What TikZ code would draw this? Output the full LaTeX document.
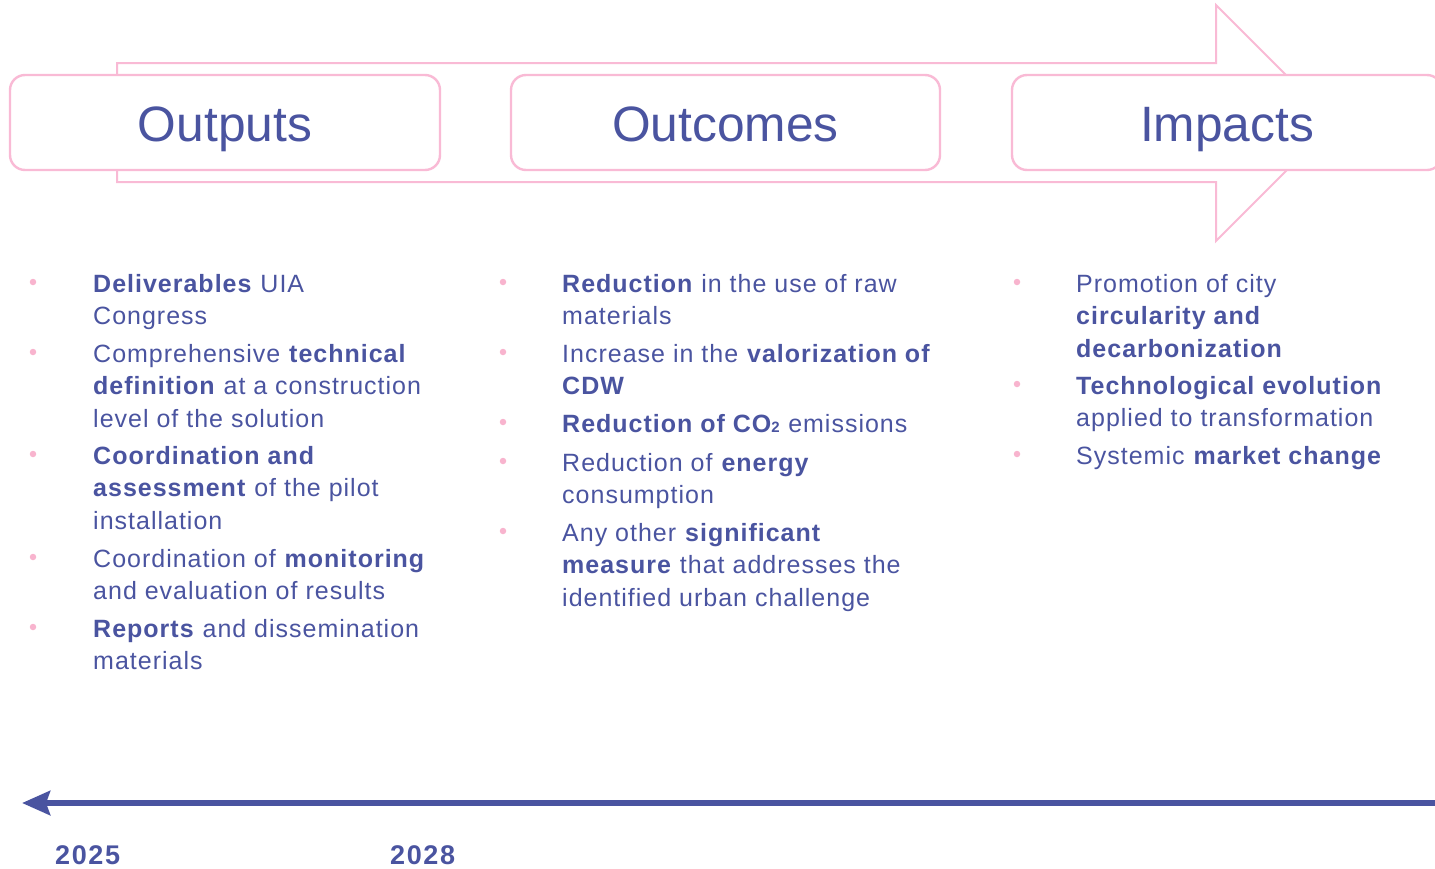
\documentclass[tikz,border=0pt]{standalone}
\usepackage{fontspec}
\setmainfont{Liberation Sans}
\newfontfamily\bodyf{Liberation Sans}[LetterSpace=4]
\newfontfamily\yearf{Liberation Sans}[LetterSpace=6]
\newfontfamily\titlef{Liberation Sans}
\usetikzlibrary{arrows.meta}
\definecolor{ublue}{RGB}{74,84,160}
\definecolor{upink}{RGB}{249,186,213}
\definecolor{dotpink}{RGB}{248,180,206}
\newcommand{\itemtxt}[1]{\parbox[t]{420pt}{\raggedright\bodyf\fontsize{25}{32.6}\selectfont #1}}
\newcommand{\cotwo}{CO{\fontsize{15}{15}\selectfont 2}}
\tikzset{
  titlebox/.style={draw=upink, line width=2.4pt, fill=white, rounded corners=15pt},
  titletext/.style={text=ublue, font=\titlef\fontsize{49.7}{55}\selectfont, inner sep=0pt, anchor=base},
  itemnode/.style={text=ublue, inner sep=0pt, anchor=base west},
  bulletdot/.style={fill=dotpink, draw=none, circle, minimum size=6.5pt, inner sep=0pt},
  bigarrow/.style={draw=upink, line width=2pt, fill=white},
  yearlabel/.style={text=ublue, font=\yearf\bfseries\fontsize{27}{30}\selectfont, inner sep=0pt, anchor=base west},
}
\begin{document}
\begin{tikzpicture}[x=1pt,y=-1pt]
\useasboundingbox (0,0) rectangle (1435,868);
\clip (0,0) rectangle (1435,868);
% big background arrow
\draw[bigarrow] (117,63) -- (1216,63) -- (1216,5) -- (1334,123) -- (1216,241) -- (1216,182) -- (117,182) -- cycle;
% title boxes
\draw[titlebox] (10,75) rectangle (440,170);
\draw[titlebox] (511,75) rectangle (940,170);
\draw[titlebox] (1012,75) rectangle (1442,170);
\node[titletext] (tout) at (225,141.5) {Outputs};
\node[titletext] (toc) at (725.5,141.5) {Outcomes};
\node[titletext] (timp) at (1227,141.5) {Impacts};
% column 1
\foreach \y/\n in {292/a1,362/a2,464/a3,567/a4,637/a5}{\node[bulletdot] (d\n) at (33,\y-10) {};}
\node[itemnode] (a1) at (93,292) {\itemtxt{\textbf{Deliverables} UIA\\Congress}};
\node[itemnode] (a2) at (93,362) {\itemtxt{Comprehensive \textbf{technical}\\\textbf{definition} at a construction\\level of the solution}};
\node[itemnode] (a3) at (93,464) {\itemtxt{\textbf{Coordination and}\\\textbf{assessment} of the pilot\\installation}};
\node[itemnode] (a4) at (93,567) {\itemtxt{Coordination of \textbf{monitoring}\\and evaluation of results}};
\node[itemnode] (a5) at (93,637) {\itemtxt{\textbf{Reports} and dissemination\\materials}};
% column 2
\foreach \y/\n in {292/b1,362/b2,432/b3,471/b4,541/b5}{\node[bulletdot] (d\n) at (503,\y-10) {};}
\node[itemnode] (b1) at (562,292) {\itemtxt{\textbf{Reduction} in the use of raw\\materials}};
\node[itemnode] (b2) at (562,362) {\itemtxt{Increase in the \textbf{valorization of}\\\textbf{CDW}}};
\node[itemnode] (b3) at (562,432) {\itemtxt{\textbf{Reduction of \cotwo} emissions}};
\node[itemnode] (b4) at (562,471) {\itemtxt{Reduction of \textbf{energy}\\consumption}};
\node[itemnode] (b5) at (562,541) {\itemtxt{Any other \textbf{significant}\\\textbf{measure} that addresses the\\identified urban challenge}};
% column 3
\foreach \y/\n in {292/c1,394/c2,464/c3}{\node[bulletdot] (d\n) at (1017,\y-10) {};}
\node[itemnode] (c1) at (1076,292) {\itemtxt{Promotion of city\\\textbf{circularity and}\\\textbf{decarbonization}}};
\node[itemnode] (c2) at (1076,394) {\itemtxt{\textbf{Technological evolution}\\applied to transformation}};
\node[itemnode] (c3) at (1076,464) {\itemtxt{Systemic \textbf{market change}}};
% timeline
\coordinate (tlR) at (1445,803);
\coordinate (tlL) at (22,803);
\draw[ublue, line width=6pt, -{Stealth[length=28pt,width=24pt,inset=4pt]}] (tlR) -- (tlL);
\node[yearlabel] (y1) at (55,864) {2025};
\node[yearlabel] (y2) at (390,864) {2028};
\end{tikzpicture}
\end{document}
